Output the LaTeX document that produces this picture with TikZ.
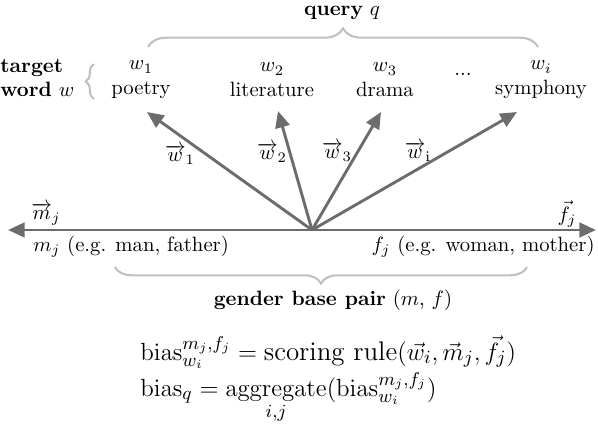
\documentclass[tikz,border=0pt]{standalone}
\usepackage{amsmath}
\usetikzlibrary{arrows.meta, decorations.pathreplacing}
\definecolor{vecgray}{RGB}{108,108,108}
\definecolor{bracegray}{RGB}{192,192,192}

\begin{document}
\begin{tikzpicture}[
			x=0.483pt, y=-0.483pt,
			vec/.style={-{Triangle[length=8pt,width=7pt]}, line width=1.4pt, draw=vecgray},
			grp/.style={decorate, decoration={brace, amplitude=#1}, draw=bracegray, line width=1pt},
			word/.style={align=center, inner sep=0pt},
			veclbl/.style={inner sep=0pt},
			eq/.style={anchor=base west, font=\fontsize{13}{15}\selectfont, inner sep=0pt}
		]
			\useasboundingbox (0,0) rectangle (598,424);

			% origin and vector tips
			\coordinate (o) at (312,230);
			\coordinate (tw1) at (147,112);
			\coordinate (tw2) at (278,111);
			\coordinate (tw3) at (381,112);
			\coordinate (twi) at (517,112);
			\coordinate (tm) at (8,230);
			\coordinate (tf) at (596,230);

			% query words
			\node[word] (poetry) at (141,80) {$w_1$\\poetry};
			\node[word] (lit) at (272,80) {$w_2$\\literature};
			\node[word] (drama) at (385,80) {$w_3$\\drama};
			\node[inner sep=0pt] (dots) at (463,74) {...};
			\node[word] (symph) at (541,80) {$w_i$\\symphony};
			\node[anchor=west, align=left, inner sep=0pt] (target) at (0,78) {\textbf{target}\\\textbf{word} $w$};
			\node[inner sep=0pt] (query) at (342,13) {\textbf{query} $q$};

			% vectors
			\draw[vec] (o) -- (tw1);
			\draw[vec] (o) -- (tw2);
			\draw[vec] (o) -- (tw3);
			\draw[vec] (o) -- (twi);
			\draw[vec] (o) -- (tm);
			\draw[vec] (o) -- (tf);
			\node[veclbl] (lw1) at (180,155) {$\overrightarrow{w}_1$};
			\node[veclbl] (lw2) at (272,153) {$\overrightarrow{w}_2$};
			\node[veclbl] (lw3) at (337,152) {$\overrightarrow{w}_3$};
			\node[veclbl] (lwi) at (418,152) {$\overrightarrow{w}_{\mathrm{i}}$};
			\node[veclbl] (lm) at (46,214) {$\overrightarrow{m}_j$};
			\node[veclbl] (lf) at (567,214) {$\vec{f}_j$};

			% base pair words
			\node[anchor=west, inner sep=0pt] (man) at (33,247) {$m_j$ (e.g. man, father)};
			\node[anchor=east, inner sep=0pt] (woman) at (595,247) {$f_j$ (e.g. woman, mother)};
			\node[inner sep=0pt] (pair) at (333,300) {\textbf{gender base pair} $(m,\,f)$};

			% braces
			\draw[grp=9pt] (148,47) -- (538,47);
			\draw[grp=8pt] (527,267) -- (115,267);
			\draw[grp=4pt] (94,99) -- (94,64);

			% formulas
			\node[eq] (eq1) at (140,360) {$\mathrm{bias}_{w_i}^{m_j,f_j} = \text{scoring rule}(\vec{w}_i,\vec{m}_j,\vec{f}_j)$};
			\node[eq] (eq2) at (140,396) {$\mathrm{bias}_q = \mathop{\mathrm{aggregate}}\limits_{i,j}(\mathrm{bias}_{w_i}^{m_j,f_j})$};
		\end{tikzpicture}
\end{document}
